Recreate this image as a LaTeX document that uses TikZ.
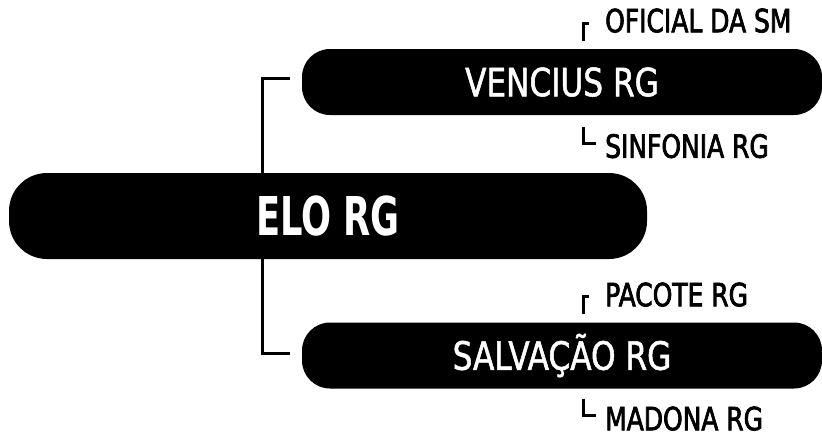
\documentclass[tikz,border=0pt]{standalone}
\usepackage{fontspec}
\setmainfont{DejaVu Sans}
\newfontfamily\boxfont[FakeStretch=0.8,FakeBold=1.3]{DejaVu Sans}
\newfontfamily\leaffont[FakeStretch=0.78,FakeBold=2.2]{DejaVu Sans}
\newfontfamily\boldfont[FakeStretch=0.66]{DejaVu Sans Bold}
\usetikzlibrary{calc}
\tikzset{
  pill/.style={fill=black, text=white, inner sep=0pt, text depth=0pt, align=center},
  subbox/.style={pill, minimum width=520pt, minimum height=66pt, rounded corners=28pt, text height=28.5pt, font=\boxfont\fontsize{39}{39}\selectfont},
  rootbox/.style={pill, minimum width=638pt, minimum height=86pt, rounded corners=38pt, text height=39pt, font=\boldfont\fontsize{53.5}{53.5}\selectfont},
  leaf/.style={anchor=west, inner sep=0pt, text height=23.5pt, text depth=0pt, font=\leaffont\fontsize{32}{32}\selectfont},
  conn/.style={line width=3pt, draw=black}
}
\begin{document}
\begin{tikzpicture}[x=1pt,y=-1pt]
\useasboundingbox (0,0) rectangle (822,437);
% boxes
\node[subbox] (ven) at (562,82) {VENCIUS RG};
\node[subbox] (sal) at (562,355.5) {SALVAÇÃO RG};
\coordinate (vt) at ($(ven.west)+(-12,-4)$);
\coordinate (st) at ($(sal.west)+(-12,-2)$);
\coordinate (trunk) at (262,216);
\draw[conn] (vt) -| (trunk) |- (st);
\node[rootbox] (elo) at (328,216) {ELO RG};
% leaves
\node[leaf] (ofi) at (605,20.5) {OFICIAL DA SM};
\node[leaf] (sin) at (605,146) {SINFONIA RG};
\node[leaf] (pac) at (605,294.5) {PACOTE RG};
\node[leaf] (mad) at (605,418.5) {MADONA RG};
% brackets
\draw[conn] ($(ofi.west)+(-22,20)$) |- ($(ofi.west)+(-16,2.5)$);
\draw[conn] ($(sin.west)+(-22,-19)$) |- ($(sin.west)+(-9,-3)$);
\draw[conn] ($(pac.west)+(-22,19)$) |- ($(pac.west)+(-16,1.5)$);
\draw[conn] ($(mad.west)+(-22,-20)$) |- ($(mad.west)+(-9,-3.5)$);
\end{tikzpicture}
\end{document}
